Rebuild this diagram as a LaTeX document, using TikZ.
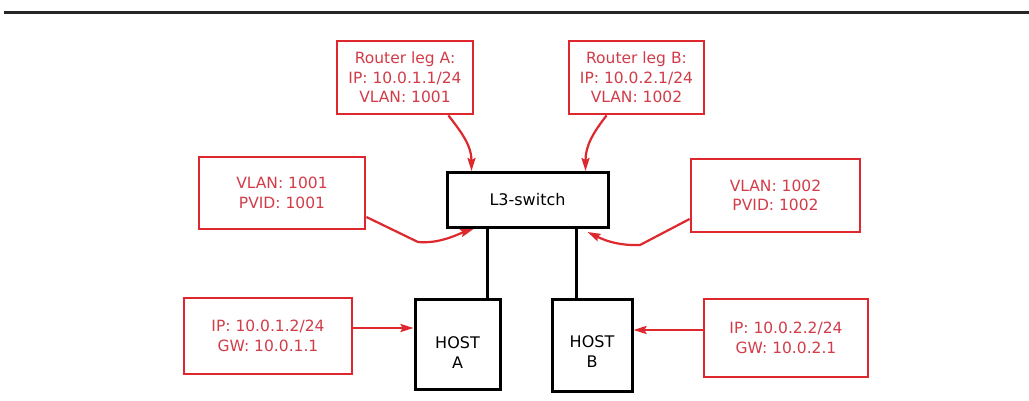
\documentclass[tikz,border=0pt]{standalone}
\usepackage{fontspec}
\setmainfont{DejaVu Sans}
\usetikzlibrary{arrows.meta}
\definecolor{boxred}{RGB}{222,40,45}
\definecolor{txtred}{RGB}{210,60,72}
\tikzset{
  redbox/.style={draw=boxred, line width=2.8pt, text=txtred, align=center, inner sep=0pt,
     font=\fontsize{15.5}{19.5}\selectfont},
  blackbox/.style={draw=black, line width=3pt, align=center, inner sep=0pt,
     font=\fontsize{16}{20}\selectfont},
  hosttext/.style={align=center, font=\fontsize{16}{20}\selectfont},
  redarrow/.style={draw=boxred, line width=2.2pt, -{Stealth[length=13pt,width=8pt,inset=2pt]}},
  blackline/.style={draw=black, line width=3pt},
}
\begin{document}
\begin{tikzpicture}[x=1pt,y=-1pt]
\useasboundingbox[fill=white] (0,0) rectangle (1029,400);
\coordinate (tl) at (4,12.5);
\coordinate (tr) at (1029,12.5);
\draw[line width=2.2pt, black!85] (tl) -- (tr);

% black nodes
\node[blackbox, minimum width=161pt, minimum height=55pt] (l3) at (527.5,200) {L3-switch};
\node[blackbox, minimum width=85pt, minimum height=90pt,
      label={[hosttext, yshift=-8.5pt]center:HOST\\A}] (ha) at (457.5,344) {};
\node[blackbox, minimum width=80pt, minimum height=92pt,
      label={[hosttext, yshift=-6.5pt]center:HOST\\B}] (hb) at (592,345.5) {};

% red boxes
\node[redbox, minimum width=136pt, minimum height=73pt] (ra) at (405,77.5) {Router leg A:\\IP: 10.0.1.1/24\\VLAN: 1001};
\node[redbox, minimum width=135pt, minimum height=73pt] (rb) at (636.5,77.5) {Router leg B:\\IP: 10.0.2.1/24\\VLAN: 1002};
\node[redbox, minimum width=166pt, minimum height=72pt] (va) at (282,193) {VLAN: 1001\\PVID: 1001};
\node[redbox, minimum width=169pt, minimum height=73pt] (vb) at (775.5,195.5) {VLAN: 1002\\PVID: 1002};
\node[redbox, minimum width=168pt, minimum height=76pt] (ia) at (268,336) {IP: 10.0.1.2/24\\GW: 10.0.1.1};
\node[redbox, minimum width=164pt, minimum height=78pt] (ib) at (786,338) {IP: 10.0.2.2/24\\GW: 10.0.2.1};

% black links
\draw[blackline] ([xshift=-40.5pt]l3.south) -- ([xshift=29.5pt]ha.north);
\draw[blackline] ([xshift=48.5pt]l3.south) -- ([xshift=-16pt]hb.north);

% red arrows
\draw[redarrow] ([xshift=-26pt]ra.south east) .. controls +(14,18) and +(0,-25) .. ([xshift=26pt]l3.north west);
\draw[redarrow] ([xshift=39pt]rb.south west) .. controls +(-14,18) and +(0,-25) .. ([xshift=-24pt]l3.north east);
\coordinate (vak) at (418,242);
\draw[redarrow] ([yshift=-24pt]va.east) -- (vak) .. controls (440,244) and (458,234) .. ([xshift=28pt]l3.south west);
\coordinate (vbk) at (640,245);
\draw[redarrow] ([yshift=-23.5pt]vb.west) -- (vbk) .. controls (615,246) and (600,238) .. ([xshift=-22pt,yshift=-3pt]l3.south east);
\draw[redarrow] ([yshift=8pt]ia.east) -- ([yshift=16pt]ha.west);
\draw[redarrow] ([yshift=8pt]ib.west) -- ([yshift=15.5pt]hb.east);
\end{tikzpicture}
\end{document}
